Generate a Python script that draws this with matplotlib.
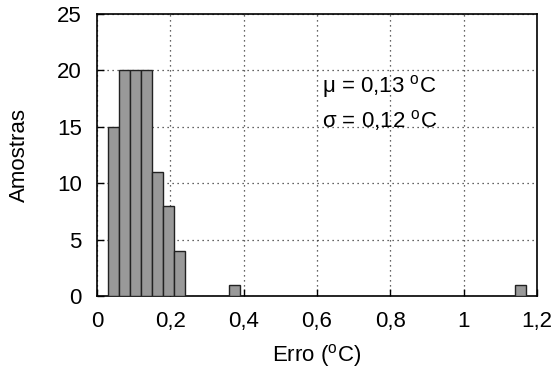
import matplotlib
matplotlib.use("Agg")
import matplotlib.pyplot as plt
import numpy as np

plt.rcParams['font.family'] = ['Liberation Sans', 'DejaVu Sans']
plt.rcParams['mathtext.fontset'] = 'custom'
plt.rcParams['mathtext.rm'] = 'Liberation Sans'
plt.rcParams['mathtext.it'] = 'Liberation Sans'

# Histogram of errors: bin left edges (°C) and sample counts
bin_left = [0.03, 0.06, 0.09, 0.12, 0.15, 0.18, 0.21, 0.36, 1.14]
counts = [15, 20, 20, 20, 11, 8, 4, 1, 1]
bin_width = 0.03

x_ticks = [0, 0.2, 0.4, 0.6, 0.8, 1.0, 1.2]
x_labels = ['0', '0,2', '0,4', '0,6', '0,8', '1', '1,2']
y_ticks = [0, 5, 10, 15, 20, 25]

FS = 16

fig = plt.figure(figsize=(5.57, 3.69), dpi=100)
ax = fig.add_axes([0.174, 0.198, 0.790, 0.764])

ax.bar(bin_left, counts, width=bin_width, align='edge',
       color='#999999', edgecolor='#222222', linewidth=1.0, zorder=3)

ax.set_xlim(0, 1.2)
ax.set_ylim(0, 25)
ax.set_xticks(x_ticks)
ax.set_xticklabels(x_labels)
ax.set_yticks(y_ticks)

ax.grid(True, linestyle=(0, (1, 3)), color='#333333', linewidth=0.9, zorder=1)
ax.tick_params(direction='in', length=5, width=1, labelsize=FS,
               top=False, right=False)
ax.tick_params(axis='x', pad=10.5)
ax.tick_params(axis='y', pad=11)
for s in ax.spines.values():
    s.set_linewidth(1.2)

ax.set_xlabel(r'Erro ($^{\mathregular{o}}$C)', fontsize=FS, labelpad=7.5)
ax.set_ylabel('Amostras', fontsize=FS, labelpad=19)

ax.text(0.615, 18.6, r'μ = 0,13 $^{\mathregular{o}}$C', fontsize=FS, va='center')
ax.text(0.615, 15.6, r'σ = 0,12 $^{\mathregular{o}}$C', fontsize=FS, va='center')

fig.savefig('out.png', dpi=100)
